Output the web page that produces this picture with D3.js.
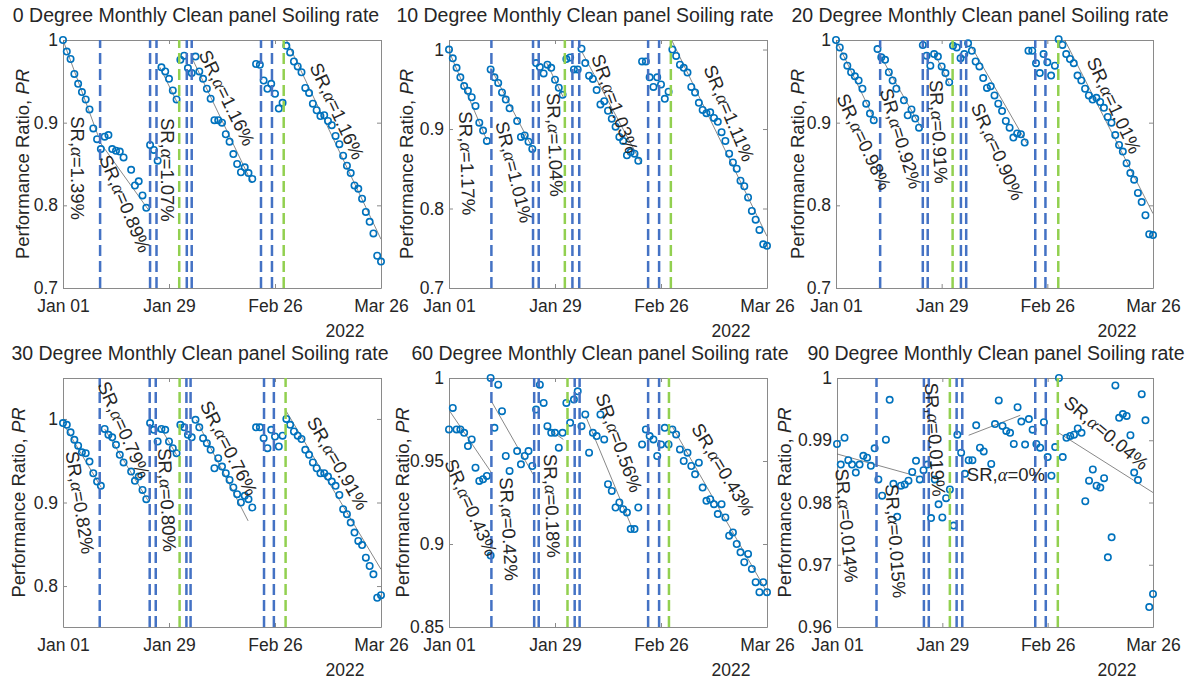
<!DOCTYPE html>
<html>
<head>
<meta charset="utf-8">
<script src="https://cdn.jsdelivr.net/npm/d3@7"></script>
<style>
  body { margin: 0; background: #fff; }
  text { font-family: "Liberation Sans", Arial, sans-serif; fill: #262626; }
</style>
</head>
<body>
<svg id="chart" width="1195" height="688"></svg>
<script>
// tilt angles of the panels, ticks and axis ranges
const tilts = [0, 10, 20, 30, 60, 90];
const tickDays = [0, 28, 56, 84];
const yDomains = [[0.7, 1.0], [0.7, 1.012], [0.7, 1.0], [0.751, 1.049], [0.85, 1.0], [0.96, 1.0]];
const yTicks = [
  [0.7, 0.8, 0.9, 1], [0.7, 0.8, 0.9, 1], [0.7, 0.8, 0.9, 1],
  [0.8, 0.9, 1], [0.85, 0.9, 0.95, 1], [0.96, 0.97, 0.98, 0.99, 1]
];

// performance ratio per day since Jan 01 2022 : [day, PR]
const pr0 = [[0,1.000],[1,0.986],[2,0.977],[3,0.959],[4,0.947],[5,0.937],[6,0.928],[7,0.916],[8,0.893],[9,0.880],
  [10,0.868],[11,0.883],[12,0.885],[13,0.868],[14,0.866],[15,0.865],[16,0.858],[18,0.843],[19,0.824],[20,0.829],[21,0.812],[22,0.797],
  [23,0.873],[24,0.867],[25,0.854],[26,0.967],[27,0.962],[28,0.953],[29,0.939],[30,0.928],
  [31,0.976],[32,0.981],[33,0.966],[34,0.960],[35,0.980],[36,0.962],[37,0.953],[38,0.941],[39,0.929],[40,0.903],[41,0.903],[42,0.900],
  [43,0.886],[44,0.877],[45,0.862],[46,0.850],[47,0.840],[48,0.846],[49,0.839],[50,0.832],
  [51,0.971],[52,0.970],[53,0.951],[54,0.941],[55,0.947],[56,0.935],[57,0.917],[58,0.924],
  [59,0.993],[60,0.985],[61,0.974],[62,0.968],[63,0.961],[64,0.942],[65,0.936],[66,0.923],[67,0.915],[68,0.908],[69,0.909],[70,0.902],
  [71,0.897],[72,0.884],[73,0.874],[74,0.860],[75,0.848],[76,0.839],[77,0.824],[78,0.820],[79,0.808],[80,0.792],[81,0.780],[82,0.766],[83,0.739],[84,0.732]];
const pr10 = [[0,1.000],[1,0.989],[2,0.977],[3,0.965],[4,0.954],[5,0.948],[6,0.940],[7,0.929],[8,0.908],[9,0.898],[10,0.885],
  [11,0.975],[12,0.965],[13,0.958],[14,0.946],[15,0.937],[16,0.926],[18,0.910],[19,0.890],[20,0.892],[21,0.884],[22,0.875],
  [23,0.983],[24,0.978],[25,0.970],[26,0.981],[27,0.977],[28,0.962],[29,0.952],[30,0.943],
  [31,0.988],[32,0.990],[33,0.975],[34,0.975],[35,1.001],[36,0.983],[37,0.967],[38,0.963],[39,0.949],[40,0.931],[41,0.935],[42,0.923],
  [43,0.913],[44,0.903],[45,0.890],[46,0.885],[47,0.867],[48,0.871],[49,0.869],[50,0.860],
  [51,0.985],[52,0.985],[53,0.965],[54,0.953],[55,0.965],[56,0.956],[57,0.938],[58,0.947],
  [59,1.000],[60,0.992],[61,0.981],[62,0.977],[63,0.971],[64,0.953],[65,0.946],[66,0.933],[67,0.924],[68,0.920],[69,0.921],[70,0.914],
  [71,0.909],[72,0.896],[73,0.885],[74,0.869],[75,0.858],[76,0.850],[77,0.835],[78,0.828],[79,0.814],[80,0.797],[81,0.786],[82,0.773],[83,0.755],[84,0.753]];
const pr20 = [[0,1.000],[1,0.991],[2,0.980],[3,0.969],[4,0.961],[5,0.956],[6,0.951],[7,0.941],[8,0.923],[9,0.911],[10,0.903],
  [11,0.989],[12,0.979],[13,0.976],[14,0.961],[15,0.951],[16,0.941],[18,0.927],[19,0.909],[20,0.916],[21,0.905],[22,0.894],
  [23,0.994],[24,0.981],[25,0.969],[26,0.983],[27,0.980],[28,0.968],[29,0.960],[30,0.949],
  [31,0.993],[32,0.991],[33,0.978],[34,0.983],[35,0.996],[36,0.987],[37,0.974],[38,0.968],[39,0.954],[40,0.942],[41,0.944],[42,0.933],
  [43,0.923],[44,0.914],[45,0.902],[46,0.894],[47,0.882],[48,0.887],[49,0.886],[50,0.876],
  [51,0.987],[52,0.987],[53,0.972],[54,0.960],[55,0.983],[56,0.973],[57,0.957],[58,0.969],
  [59,1.001],[60,0.994],[61,0.983],[62,0.977],[63,0.972],[64,0.957],[65,0.951],[66,0.941],[67,0.933],[68,0.928],[69,0.930],[70,0.925],
  [71,0.918],[72,0.907],[73,0.900],[74,0.885],[75,0.873],[76,0.865],[77,0.851],[78,0.839],[79,0.831],[80,0.815],[81,0.804],[82,0.788],[83,0.765],[84,0.764]];
const pr30 = [[0,0.995],[1,0.993],[2,0.984],[3,0.975],[4,0.968],[5,0.960],[6,0.959],[7,0.949],[8,0.935],[9,0.925],[10,0.920],
  [11,0.988],[12,0.981],[13,0.978],[14,0.969],[15,0.957],[16,0.948],[18,0.937],[19,0.926],[20,0.931],[21,0.915],[22,0.904],
  [23,0.995],[24,0.987],[25,0.973],[26,0.988],[27,0.987],[28,0.973],[29,0.965],[30,0.959],
  [31,0.993],[32,0.990],[33,0.981],[34,0.978],[35,0.999],[36,0.990],[37,0.977],[38,0.971],[39,0.963],[40,0.941],[41,0.953],[42,0.943],
  [43,0.935],[44,0.927],[45,0.918],[46,0.910],[47,0.900],[48,0.908],[49,0.904],[50,0.894],
  [51,0.990],[52,0.990],[53,0.977],[54,0.965],[55,0.987],[56,0.979],[57,0.967],[58,0.980],
  [59,1.000],[60,0.993],[61,0.985],[62,0.980],[63,0.976],[64,0.963],[65,0.957],[66,0.948],[67,0.941],[68,0.935],[69,0.935],[70,0.931],
  [71,0.925],[72,0.920],[73,0.909],[74,0.892],[75,0.886],[76,0.876],[77,0.864],[78,0.854],[79,0.849],[80,0.834],[81,0.824],[82,0.814],[83,0.786],[84,0.789]];
const pr60 = [[0,0.969],[1,0.982],[2,0.969],[3,0.969],[4,0.967],[5,0.959],[6,0.963],[7,0.946],[8,0.938],[9,0.939],[10,0.941],
  [11,1.000],[11,0.893],[12,0.970],[13,0.996],[14,0.980],[15,0.953],[16,0.944],[18,0.956],[19,0.948],[20,0.953],[21,0.956],[22,0.947],
  [23,0.981],[24,0.996],[25,0.985],[26,0.971],[27,0.967],[28,0.967],[29,0.958],[30,0.967],[31,0.985],
  [32,0.973],[33,0.987],[34,0.992],[35,0.971],[36,0.978],[37,0.955],[38,0.967],[39,0.965],[40,0.978],[41,0.963],[42,0.936],[43,0.932],
  [44,0.922],[45,0.925],[46,0.921],[47,0.919],[48,0.909],[49,0.909],[50,0.922],
  [51,0.960],[52,0.969],[53,0.965],[54,0.963],[55,0.953],[56,0.960],[57,0.970],[58,0.960],
  [59,0.969],[60,0.966],[61,0.957],[62,0.950],[63,0.955],[64,0.947],[65,0.942],[66,0.949],[67,0.934],[68,0.926],[69,0.927],[70,0.924],
  [71,0.918],[72,0.924],[73,0.916],[74,0.905],[75,0.907],[76,0.900],[77,0.895],[78,0.889],[79,0.894],[80,0.885],[81,0.877],[82,0.871],[83,0.877],[84,0.871]];
const pr90 = [[0,0.9894],[1,0.9861],[2,0.9904],[3,0.9868],[4,0.9861],[5,0.9848],[6,0.9861],[7,0.9875],[8,0.9872],[9,0.9859],[10,0.9887],
  [11,0.9837],[12,0.9811],[13,0.9901],[14,0.9965],[15,0.9830],[16,0.9777],[17,0.9827],[18,0.9829],[19,0.9835],[20,0.9849],[21,0.9867],
  [22,0.9837],[23,0.9852],[24,0.9861],[25,0.9775],[26,0.9837],[27,0.9797],[28,0.9776],[29,0.9807],[30,0.9821],[31,0.9763],[32,0.9909],
  [33,0.9880],[34,0.9846],[35,0.9868],[36,0.9868],[37,0.9924],[38,0.9888],[39,0.9882],[41,0.9862],[42,0.9926],[43,0.9964],[44,0.9923],
  [45,0.9915],[46,0.9912],[47,0.9894],[48,0.9953],[49,0.9930],[50,0.9893],[51,0.9934],[52,0.9917],[53,0.9894],[54,0.9888],[55,0.9929],
  [56,0.9873],[57,0.9843],[58,0.9889],[59,1.0000],[60,0.9873],[61,0.9904],[62,0.9907],[63,0.9909],[64,0.9919],[65,0.9912],[66,0.9802],
  [67,0.9835],[68,0.9853],[69,0.9827],[70,0.9824],[71,0.9839],[72,0.9712],[73,0.9744],[74,0.9988],[75,0.9936],[76,0.9942],[77,0.9939],
  [78,0.9908],[79,0.9848],[80,0.9836],[81,0.9974],[82,0.9932],[83,0.9632],[84,0.9653]];

// event days (blue = rain/other, green = cleaning)
const blue0 = [9.8, 23.0, 24.7, 32.7, 34.0, 52.3, 55.2], green0 = [30.7, 58.3];
const blue10 = [11.2, 22.2, 23.7, 32.6, 34.4, 52.6, 55.5], green10 = [30.6, 58.6];
const blue20 = [11.7, 23.0, 24.3, 33.1, 34.5, 52.8, 55.5], green20 = [30.9, 58.9];
const blue30 = [9.7, 22.9, 24.5, 32.6, 33.7, 53.1, 55.7], green30 = [30.8, 58.8];
const blue60 = [11.2, 22.5, 23.7, 33.2, 34.5, 52.6, 55.5], green60 = [31.3, 58.1];
const blue90 = [10.5, 23.1, 24.4, 31.8, 33.3, 52.7, 55.5], green90 = [30.0, 58.7];

// fitted soiling lines : [day0, PR0, day1, PR1]
const fit0 = [[0,1.0,9.2,0.885],[9.5,0.878,22.5,0.795],[25.6,0.967,30.1,0.925],[34.3,0.976,49.9,0.827],[58.6,1.004,84,0.759]];
const fit10 = [[0,0.998,10,0.886],[11,0.977,22.6,0.871],[25.8,0.983,30.2,0.940],[35,0.998,50.9,0.856],[58.9,1.011,84,0.765]];
const fit20 = [[0,1.0,10.3,0.903],[11,0.987,22.7,0.893],[26,0.985,30,0.947],[35.5,0.995,50.6,0.875],[60.5,1.001,84,0.790]];
const fit30 = [[0,0.995,10.1,0.918],[11,0.988,22.5,0.902],[25.6,0.991,30,0.957],[35.2,0.999,48.9,0.878],[58.6,1.012,84,0.820]];
const fit60 = [[0.2,0.980,11.2,0.943],[11.2,0.986,22.2,0.942],[25.8,0.970,30.2,0.963],[36.1,0.977,48.3,0.910],[58.9,0.971,84,0.871]];
const fit90 = [[0,0.9878,22,0.9841],[35,0.9908,48.7,0.9940],[58.9,0.9912,84,0.9816]];

// soiling rate labels : [day, PR, angle, rate]
const lab0 = [[3.7,0.845,90,"1.39%"],[16.4,0.802,67,"0.89%"],[27.5,0.843,90,"1.07%"],[43.3,0.930,64,"1.16%"],[72.4,0.914,65,"1.16%"]];
const lab10 = [[4.8,0.857,88,"1.17%"],[17.2,0.846,76,"1.01%"],[28.0,0.880,88,"1.04%"],[43.8,0.932,70,"1.03%"],[74.0,0.920,67,"1.11%"]];
const lab20 = [[7.4,0.877,65,"0.98%"],[17.2,0.881,73,"0.92%"],[27.2,0.889,87,"0.91%"],[42.8,0.865,66,"0.90%"],[73.7,0.921,65,"1.01%"]];
const lab30 = [[4.5,0.900,81,"0.82%"],[16.1,0.987,66,"0.79%"],[27.5,0.903,87,"0.80%"],[43.8,0.965,63,"0.76%"],[72.6,0.947,60,"0.91%"]];
const lab60 = [[5.8,0.922,66,"0.43%"],[15.8,0.909,87,"0.42%"],[27.2,0.923,88,"0.18%"],[44.9,0.961,70,"0.56%"],[72.4,0.945,59,"0.43%"]];
const lab90 = [[2.6,0.9763,85,"0.014%"],[15.6,0.9738,86,"0.015%"],[26.1,0.9901,86,"0.019%"],[44.9,0.9845,0,"0%"],[71.6,0.9912,40,"0.04%"]];

const series = [pr0, pr10, pr20, pr30, pr60, pr90];
const blues = [blue0, blue10, blue20, blue30, blue60, blue90];
const greens = [green0, green10, green20, green30, green60, green90];
const fits = [fit0, fit10, fit20, fit30, fit60, fit90];
const labels = [lab0, lab10, lab20, lab30, lab60, lab90];

// axes boxes on the page
const boxes = [
  { x: 63, y: 40, w: 318, h: 248, tx: 196, yl: 40 },
  { x: 449, y: 40, w: 318, h: 248, tx: 585, yl: 42 },
  { x: 836, y: 40, w: 317, h: 248, tx: 980, yl: 38 },
  { x: 63, y: 378, w: 318, h: 249, tx: 200, yl: 44 },
  { x: 449, y: 378, w: 318, h: 249, tx: 600, yl: 46 },
  { x: 837, y: 378, w: 316, h: 249, tx: 996, yl: 52 }
];

const t0 = Date.UTC(2022, 0, 1);
const toDate = d => new Date(t0 + d * 864e5);

const svg = d3.select("#chart");
const markerColor = "#0072BD", blueColor = "#4472C4", greenColor = "#92D050";

tilts.forEach((tilt, i) => {
  const b = boxes[i];
  const x = d3.scaleUtc().domain([toDate(0), toDate(84)]).range([0, b.w]);
  const y = d3.scaleLinear().domain(yDomains[i]).range([b.h, 0]);

  // titulo
  svg.append("text")
    .attr("x", b.tx).attr("y", b.y - 18)
    .attr("text-anchor", "middle")
    .style("font-size", "19.5px")
    .text(tilt + " Degree Monthly Clean panel Soiling rate");

  const g = svg.append("g").attr("transform", `translate(${b.x},${b.y})`);

  g.append("clipPath").attr("id", "clip" + i)
    .append("rect").attr("width", b.w).attr("height", b.h);

  // eixos com ticks para dentro
  const xt = tickDays.map(toDate);
  g.append("g").attr("class", "axis")
    .attr("transform", `translate(0,${b.h})`)
    .call(d3.axisBottom(x).tickValues(xt).tickFormat(d3.utcFormat("%b %d"))
      .tickSizeInner(-4).tickSizeOuter(0).tickPadding(12));
  g.append("g").attr("class", "axis")
    .call(d3.axisTop(x).tickValues(xt).tickFormat("").tickSizeInner(-4).tickSizeOuter(0));
  g.append("g").attr("class", "axis")
    .call(d3.axisLeft(y).tickValues(yTicks[i]).tickFormat(d3.format("~g"))
      .tickSizeInner(-4).tickSizeOuter(0).tickPadding(5));
  g.append("g").attr("class", "axis")
    .attr("transform", `translate(${b.w},0)`)
    .call(d3.axisRight(y).tickValues(yTicks[i]).tickFormat("").tickSizeInner(-4).tickSizeOuter(0));

  g.selectAll(".axis path, .axis line").attr("stroke", "#8a8a8a");
  g.selectAll(".axis text").style("font-size", "17.5px").attr("fill", "#262626");

  // ano
  g.append("text")
    .attr("x", b.w - 36).attr("y", b.h + 49)
    .attr("text-anchor", "middle")
    .style("font-size", "17.5px")
    .text("2022");

  // rotulo do eixo y
  const yl = g.append("text")
    .attr("transform", `translate(${-b.yl},${b.h / 2}) rotate(-90)`)
    .attr("text-anchor", "middle")
    .attr("dy", "0.35em")
    .style("font-size", "18.5px");
  yl.append("tspan").text("Performance Ratio, ");
  yl.append("tspan").style("font-style", "italic").text("PR");

  // retas ajustadas
  g.append("g").attr("clip-path", `url(#clip${i})`)
    .selectAll("line")
    .data(fits[i])
    .join("line")
    .attr("x1", f => x(toDate(f[0])))
    .attr("y1", f => y(f[1]))
    .attr("x2", f => x(toDate(f[2])))
    .attr("y2", f => y(f[3]))
    .attr("stroke", "#6a6a6a")
    .attr("stroke-width", 0.8);

  // pontos
  g.append("g")
    .selectAll("circle")
    .data(series[i])
    .join("circle")
    .attr("cx", d => x(toDate(d[0])))
    .attr("cy", d => y(d[1]))
    .attr("r", 3.2)
    .attr("fill", "none")
    .attr("stroke", markerColor)
    .attr("stroke-width", 1.6);

  // linhas tracejadas dos eventos
  const events = blues[i].map(d => ({ d, c: blueColor }))
    .concat(greens[i].map(d => ({ d, c: greenColor })));
  g.append("g")
    .selectAll("line")
    .data(events)
    .join("line")
    .attr("x1", e => x(toDate(e.d)))
    .attr("x2", e => x(toDate(e.d)))
    .attr("y1", b.h)
    .attr("y2", 0)
    .attr("stroke", e => e.c)
    .attr("stroke-width", 2.5)
    .attr("stroke-dasharray", "11,5");

  // textos SR
  const lt = g.append("g")
    .selectAll("text")
    .data(labels[i])
    .join("text")
    .attr("transform", l => `translate(${x(toDate(l[0]))},${y(l[1])}) rotate(${l[2]})`)
    .attr("text-anchor", "middle")
    .attr("dy", "0.35em")
    .style("font-size", "18.5px");
  lt.append("tspan").text("SR,");
  lt.append("tspan")
    .style("font-family", "'Liberation Serif', serif")
    .style("font-style", "italic")
    .text("α");
  lt.append("tspan").text(l => "=" + l[3]);
});
</script>
</body>
</html>
